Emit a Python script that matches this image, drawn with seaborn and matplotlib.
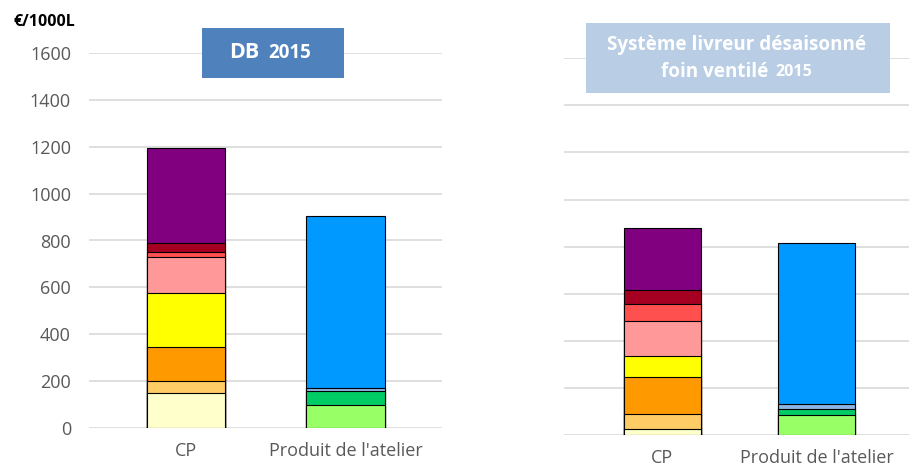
import matplotlib
matplotlib.use("Agg")
import matplotlib.pyplot as plt
from matplotlib.patches import Rectangle
import seaborn as sns
import numpy as np

# categories and stacked values (bottom -> top)
categories = ["CP", "Produit de l'atelier"]
cp_colors = ["#FFFFCC", "#FFCC66", "#FF9900", "#FFFF00", "#FF9999", "#FF5050", "#A50021", "#800080"]
prod_colors = ["#99FF66", "#00CC66", "#8EB4E3", "#0099FF"]

db_cp = [150, 53, 145, 227, 155, 22, 38, 405]
db_prod = [100, 60, 12, 731]
sl_cp = [24, 65, 159, 89, 149, 69, 60, 266]
sl_prod = [84, 25, 23, 684]

yticks = [0, 200, 400, 600, 800, 1000, 1200, 1400, 1600]

sns.set_style("white")
plt.rcParams["font.family"] = ["Open Sans", "DejaVu Sans"]

W, H = 909, 469
fig = plt.figure(figsize=(W / 100, H / 100), dpi=100)


def px(x0, y0, x1, y1):
    return [x0 / W, 1 - y1 / H, (x1 - x0) / W, (y1 - y0) / H]


ax1 = fig.add_axes(px(89, 52.7, 442, 428.3))
ax2 = fig.add_axes(px(564, 58.3, 909, 435))


def stacked(ax, cp_vals, prod_vals, width):
    for cat, vals, cols in [(categories[0], cp_vals, cp_colors),
                            (categories[1], prod_vals, prod_colors)]:
        cum = np.cumsum(vals)
        # draw tallest first so lower layers sit on top of it
        for top, col in reversed(list(zip(cum, cols))):
            sns.barplot(x=[cat], y=[top], order=categories, color=col,
                        saturation=1, width=width, edgecolor="black",
                        linewidth=0.8, ax=ax, zorder=2)


stacked(ax1, db_cp, db_prod, 0.49)
stacked(ax2, sl_cp, sl_prod, 0.50)

for ax, xl in [(ax1, (-0.608, 1.605)), (ax2, (-0.636, 1.6))]:
    ax.set_xlim(*xl)
    ax.set_ylim(0, 1600)
    ax.set_yticks(yticks)
    ax.set_axisbelow(True)
    ax.yaxis.grid(True, color="#D9D9D9", linewidth=1.2)
    ax.xaxis.grid(False)
    for s in ax.spines.values():
        s.set_visible(False)
    ax.set_xlabel("")
    ax.set_ylabel("")
    ax.tick_params(length=0, labelsize=13, colors="#595959")
    ax.tick_params(axis="x", pad=10)
    ax.tick_params(axis="y", pad=13)

ax2.set_yticklabels([])

fig.text(13 / W, 1 - 22 / H, "€/1000L", fontsize=11.5, fontweight="bold",
         ha="left", va="center", color="black")

# title boxes
fig.add_artist(Rectangle((201.7 / W, 1 - 77.7 / H), 142 / W, 49.4 / H,
                         transform=fig.transFigure, facecolor="#4F81BD",
                         edgecolor="none", zorder=5))
fig.text(244 / W, 1 - 52.5 / H, "DB", fontsize=15.5, fontweight="bold",
         color="white", ha="center", va="center", zorder=6)
fig.text(290 / W, 1 - 53.5 / H, "2015", fontsize=13.5, fontweight="bold",
         color="white", ha="center", va="center", zorder=6)

fig.add_artist(Rectangle((586 / W, 1 - 93 / H), 303.7 / W, 69.7 / H,
                         transform=fig.transFigure, facecolor="#B9CDE5",
                         edgecolor="none", zorder=5))
fig.text(737 / W, 1 - 45 / H, "Système livreur désaisonné", fontsize=13.6,
         fontweight="bold", color="white", ha="center", va="center", zorder=6)
fig.text(714.5 / W, 1 - 72 / H, "foin ventilé", fontsize=13.6,
         fontweight="bold", color="white", ha="center", va="center", zorder=6)
fig.text(794 / W, 1 - 72.5 / H, "2015", fontsize=11.5,
         fontweight="bold", color="white", ha="center", va="center", zorder=6)

fig.savefig("out.png", dpi=100)
